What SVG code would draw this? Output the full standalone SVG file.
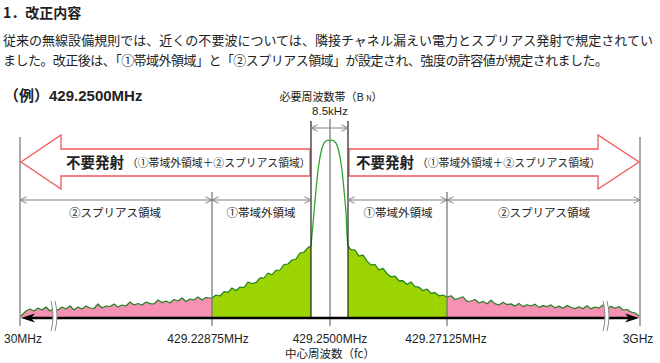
<svg xmlns="http://www.w3.org/2000/svg" width="660" height="363" viewBox="0 0 660 363">
<defs>
<style>
.jp{font-family:"Noto Sans CJK JP","Liberation Sans",sans-serif;fill:#222}
.lat{font-family:"Liberation Sans","Noto Sans CJK JP",sans-serif;fill:#222}
.vg{stroke:#707070;stroke-width:1.2;fill:none}
.vb{stroke:#222;stroke-width:1.2;fill:none}
.dim{stroke:#808080;stroke-width:1;fill:none;marker-start:url(#oa);marker-end:url(#oa)}
.redarrow{fill:#fff;stroke:#ee5a5a;stroke-width:1.3}
.curve{fill:none;stroke:#1f7f1f;stroke-width:1.2;stroke-linejoin:round}
.peak{fill:none;stroke:#2fa52f;stroke-width:1.3;stroke-linejoin:round}
.pink{fill:#f791b4}
.green{fill:#9bd400}
.brk{fill:none;stroke:#888;stroke-width:1}
</style>
<marker id="oa" viewBox="0 0 8 8" refX="7.5" refY="4" markerWidth="8" markerHeight="8" markerUnits="userSpaceOnUse" orient="auto-start-reverse">
<path d="M1,0.8 L7.5,4 L1,7.2" fill="none" stroke="#808080" stroke-width="1"/>
</marker>
</defs>
<rect x="0" y="0" width="660" height="363" fill="#ffffff"/>

<g id="header">
<text class="jp" x="3" y="18" font-size="14" font-weight="bold">1．改正内容</text>
<text class="jp" x="3" y="45" font-size="13" textLength="650" lengthAdjust="spacing">従来の無線設備規則では、近くの不要波については、隣接チャネル漏えい電力とスプリアス発射で規定されてい</text>
<text class="jp" x="3" y="65" font-size="13" textLength="605" lengthAdjust="spacing">ました。改正後は、「①帯域外領域」と「②スプリアス領域」が設定され、強度の許容値が規定されました。</text>
<text class="lat" x="4" y="101" font-size="15" font-weight="bold">（例）429.2500MHz</text>
</g>

<g id="spectrum">
<polygon class="pink" points="21,318 21,316 26,311 30,309 34,311 38,308 42,310 46,307 50,311 54,308 58,310 62,307 66,309 70,306 74,310 78,307 82,309 86,306 90,308 94,308.5 98,304 102,308 106,306 110,306.5 114,304 118,307 122,305 126,306 130,302 134,305 138,303.5 142,305 146,302 150,303.6 154,304 158,300 162,302.6 166,301 170,303 174,299.5 178,301 182,298 186,301.5 190,299 194,300 198,297 202,300 206,297.5 210,298 212,298 212,318"/>
<polygon class="green" points="212,318 212,298 216,295 220,296 224,291.6 228,292.4 232,288 236,290.7 240,287 244,287.7 248,282 252,283.5 256,282.7 260,277.8 264,278 268,273 272,274.7 276,270.4 280,270 284,264.5 288,264 292,260 296,259 300,253 304,252 308,247.6 311,246 311,318"/>
<polygon class="green" points="348,318 348,246 351,249.6 355,250 359,256.2 363,255.2 367,261.1 371,264.9 375,264.5 379,270 383,268.4 387,273.7 391,276.8 395,276 399,280.8 403,280.7 407,284.5 411,282 415,286.7 419,287.2 423,290.7 427,289 431,293.4 435,292.6 439,295.8 443,295 447,297 447,318"/>
<polygon class="pink" points="447,318 447,297 451,295.8 455,299.5 459,298.2 463,296.8 467,301.4 471,301 475,299.5 479,303 483,301.4 487,303.8 491,300.2 495,303.6 499,305 503,302.3 507,304.6 511,303.9 515,306.1 519,303.4 523,306.6 527,304.8 531,306 535,304.2 539,307.4 543,305.6 547,306.7 551,304.9 555,308 559,306.1 563,308.3 567,305.4 571,307.5 575,308.6 579,306.7 583,308.8 587,305.8 591,308.9 595,307 599,308 603,305.1 607,309.2 611,306.2 615,308.3 619,306.5 623,310 627,309.5 631,312 635,313 639,316 639,318"/>
<polyline class="curve" points="21,316 26,311 30,309 34,311 38,308 42,310 46,307 50,311 54,308 58,310 62,307 66,309 70,306 74,310 78,307 82,309 86,306 90,308 94,308.5 98,304 102,308 106,306 110,306.5 114,304 118,307 122,305 126,306 130,302 134,305 138,303.5 142,305 146,302 150,303.6 154,304 158,300 162,302.6 166,301 170,303 174,299.5 178,301 182,298 186,301.5 190,299 194,300 198,297 202,300 206,297.5 210,298 212,298 216,295 220,296 224,291.6 228,292.4 232,288 236,290.7 240,287 244,287.7 248,282 252,283.5 256,282.7 260,277.8 264,278 268,273 272,274.7 276,270.4 280,270 284,264.5 288,264 292,260 296,259 300,253 304,252 308,247.6 311,246"/>
<polyline class="curve" points="348,246 351,249.6 355,250 359,256.2 363,255.2 367,261.1 371,264.9 375,264.5 379,270 383,268.4 387,273.7 391,276.8 395,276 399,280.8 403,280.7 407,284.5 411,282 415,286.7 419,287.2 423,290.7 427,289 431,293.4 435,292.6 439,295.8 443,295 447,297 451,295.8 455,299.5 459,298.2 463,296.8 467,301.4 471,301 475,299.5 479,303 483,301.4 487,303.8 491,300.2 495,303.6 499,305 503,302.3 507,304.6 511,303.9 515,306.1 519,303.4 523,306.6 527,304.8 531,306 535,304.2 539,307.4 543,305.6 547,306.7 551,304.9 555,308 559,306.1 563,308.3 567,305.4 571,307.5 575,308.6 579,306.7 583,308.8 587,305.8 591,308.9 595,307 599,308 603,305.1 607,309.2 611,306.2 615,308.3 619,306.5 623,310 627,309.5 631,312 635,313 639,316"/>
<polyline class="peak" points="311,246 312,235 314,212 316,190 318,170 320,157 322,148 324,143 326,141 328,140 330,141 332,140 334,141 336,143 338,148 340,157 342,170 344,190 346,212 347,235 348,246"/>
</g>

<g id="emission-arrows">
<polygon class="redarrow" points="21,162 61,135 61,149 310,149 310,176 61,176 61,189"/>
<polygon class="redarrow" points="349,149 598,149 598,135 639,162 598,189 598,176 349,176"/>
<text class="jp" x="66" y="168" font-size="14.5" font-weight="bold">不要発射</text>
<text class="jp" x="127" y="167" font-size="10.8">（①帯域外領域＋②スプリアス領域）</text>
<text class="jp" x="356" y="168" font-size="14.5" font-weight="bold">不要発射</text>
<text class="jp" x="417" y="167" font-size="10.8">（①帯域外領域＋②スプリアス領域）</text>
</g>

<g id="connectors">
<line class="vg" x1="20" y1="137" x2="20" y2="326"/>
<line class="vg" x1="640" y1="137" x2="640" y2="326"/>
<line class="vg" x1="212" y1="192" x2="212" y2="326"/>
<line class="vg" x1="447" y1="192" x2="447" y2="326"/>
<line class="vg" x1="330" y1="119" x2="330" y2="326"/>
<line class="vb" x1="311" y1="121" x2="311" y2="318"/>
<line class="vb" x1="348" y1="121" x2="348" y2="318"/>
<line class="dim" x1="311" y1="128" x2="348" y2="128"/>
<line class="dim" x1="20" y1="200" x2="212" y2="200"/>
<line class="dim" x1="212" y1="200" x2="311" y2="200"/>
<line class="dim" x1="348" y1="200" x2="447" y2="200"/>
<line class="dim" x1="447" y1="200" x2="640" y2="200"/>
<line x1="28" y1="318" x2="632" y2="318" stroke="#000" stroke-width="2.5"/>
<polygon points="21,318 35,313.5 31,318 35,322.5" fill="#000"/>
<polygon points="639,318 625,313.5 629,318 625,322.5" fill="#000"/>
<path d="M51,301 Q55,316 51,331 L55,331 Q59,316 55,301 Z" fill="#fff"/>
<path class="brk" d="M51,301 Q55,316 51,331 M55,301 Q59,316 55,331"/>
<path d="M603,301 Q607,316 603,331 L607,331 Q611,316 607,301 Z" fill="#fff"/>
<path class="brk" d="M603,301 Q607,316 603,331 M607,301 Q611,316 607,331"/>
</g>

<g id="labels">
<text class="jp" x="331" y="101" font-size="11" text-anchor="middle">必要周波数帯（B <tspan font-size="7.5">N</tspan>）</text>
<text class="lat" x="330" y="115" font-size="11.5" text-anchor="middle">8.5kHz</text>
<text class="jp" x="115" y="217" font-size="11.5" text-anchor="middle">②スプリアス領域</text>
<text class="jp" x="261" y="217" font-size="11.5" text-anchor="middle">①帯域外領域</text>
<text class="jp" x="398" y="217" font-size="11.5" text-anchor="middle">①帯域外領域</text>
<text class="jp" x="544" y="217" font-size="11.5" text-anchor="middle">②スプリアス領域</text>
<text class="lat" x="4" y="343" font-size="12">30MHz</text>
<text class="lat" x="208" y="343" font-size="12" text-anchor="middle">429.22875MHz</text>
<text class="lat" x="330" y="343" font-size="12" text-anchor="middle">429.2500MHz</text>
<text class="lat" x="446" y="343" font-size="12" text-anchor="middle">429.27125MHz</text>
<text class="lat" x="638" y="343" font-size="12" text-anchor="middle">3GHz</text>
<text class="jp" x="330" y="358" font-size="11.5" text-anchor="middle">中心周波数（fc）</text>
</g>
</svg>
